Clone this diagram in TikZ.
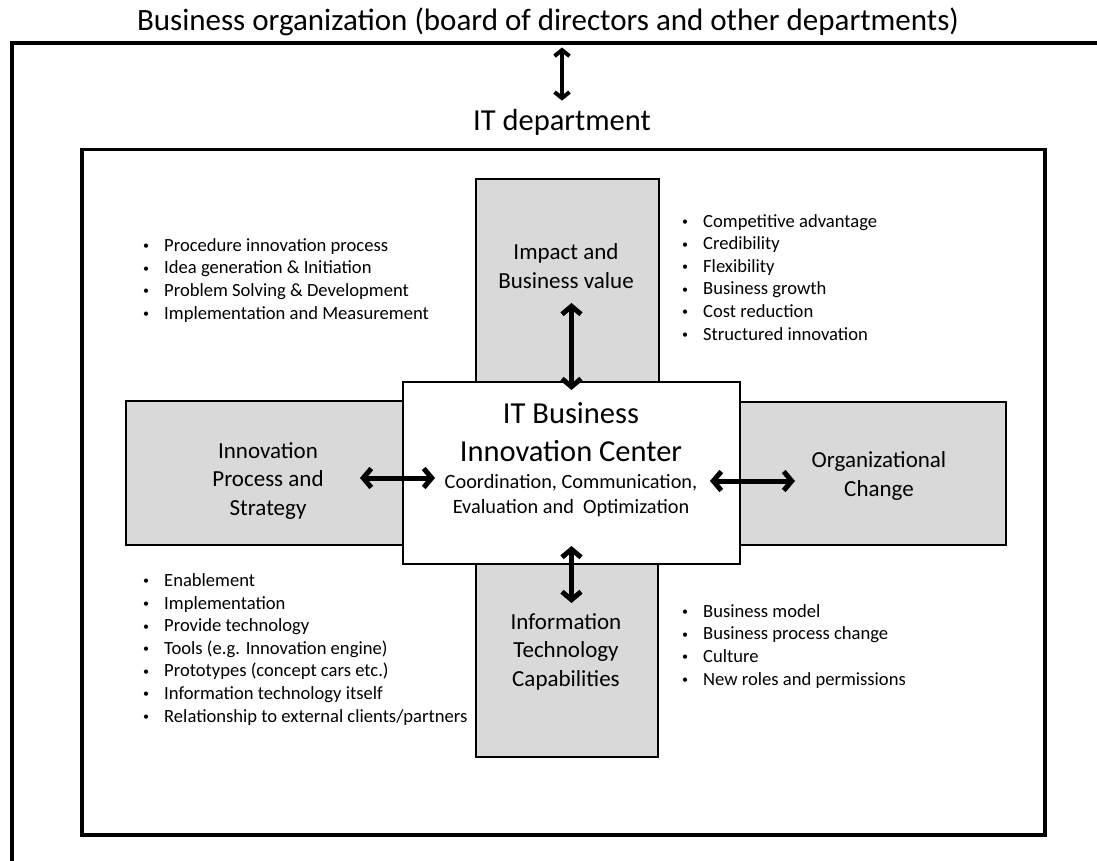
\documentclass[tikz,border=0pt]{standalone}
\usepackage{fontspec}
\setmainfont{Carlito}
\usetikzlibrary{arrows.meta}

\tikzset{
  graybox/.style={draw, line width=2pt, fill=black!15, inner sep=0pt},
  hubbox/.style={draw, line width=2pt, fill=white, inner sep=0pt},
  framebox/.style={draw, line width=3.5pt, inner sep=0pt},
  boxtext/.style={align=center, inner sep=0pt, anchor=base, font=\fontsize{23}{28.5}\selectfont},
  bullets/.style={align=left, inner sep=0pt, anchor=base west, font=\fontsize{18.6}{22.6}\selectfont},
  biarrow/.style={line width=5pt, line cap=round, line join=round,
    {Straight Barb[length=8pt,width=19pt]}-{Straight Barb[length=8pt,width=19pt]}},
  orgarrow/.style={line width=4pt, line cap=round, line join=round,
    {Straight Barb[length=6pt,width=15pt]}-{Straight Barb[length=6pt,width=15pt]}}
}
\newcommand{\bpt}{\makebox[21pt][l]{\raisebox{1.5pt}{\fontsize{12}{12}\selectfont\textbullet}}}

\begin{document}
\begin{tikzpicture}[x=1pt,y=-1pt]
  \useasboundingbox (0,0) rectangle (1097,861);

  % business organization and IT department
  \draw[line width=3.5pt] (1110,43) -- (12,43) -- (12,875);
  \node[inner sep=0pt, anchor=base, font=\fontsize{31}{36}\selectfont] (bizorg) at (548,31)
    {Business organization (board of directors and other departments)};
  \node[inner sep=0pt, anchor=base, font=\fontsize{30.5}{36}\selectfont] (itdept) at (562,131) {IT department};
  \draw[orgarrow] ([yshift=-11pt]bizorg.south -| itdept.north) -- ([yshift=9pt]itdept.north);
  \node[framebox, anchor=north west, minimum width=963pt, minimum height=685pt] (itbox) at (80,148) {};

  % the four fields
  \node[graybox, anchor=north west, minimum width=183pt, minimum height=210pt] (impact) at (475,178) {};
  \node[graybox, anchor=north west, minimum width=285pt, minimum height=144pt] (strategy) at (125,400) {};
  \node[graybox, anchor=north west, minimum width=274pt, minimum height=143pt] (orgchange) at (731,401) {};
  \node[graybox, anchor=north west, minimum width=182pt, minimum height=200pt] (itcap) at (475,556) {};

  % innovation center in the middle
  \node[hubbox, anchor=north west, minimum width=337pt, minimum height=182pt] (hub) at (402,381) {};
  \node[align=center, inner sep=0pt, anchor=base, font=\fontsize{30.5}{38}\selectfont] (hubtitle) at (571,461)
    {IT Business\\Innovation Center};
  \node[align=center, inner sep=0pt, anchor=base, font=\fontsize{20.3}{25}\selectfont] (hubtasks) at (571,513)
    {Coordination, Communication,\\Evaluation and\ \ Optimization};

  \node[boxtext] (impactlbl) at (566,288) {Impact and\\Business value};
  \node[boxtext] (strategylbl) at (268,515) {Innovation\\Process and\\Strategy};
  \node[boxtext] (orglbl) at (879,496) {Organizational\\Change};
  \node[boxtext] (itcaplbl) at (566,686) {Information\\Technology\\Capabilities};

  \draw[biarrow] ([yshift=-9pt]hub.north) -- ([yshift=78pt]hub.north);
  \draw[biarrow] ([yshift=19pt]hub.south) -- ([yshift=-38pt]hub.south);
  \draw[biarrow] ([xshift=-42pt,yshift=-5pt]hub.west) -- ([xshift=33pt,yshift=-5pt]hub.west);
  \draw[biarrow] ([xshift=-31pt,yshift=-8pt]hub.east) -- ([xshift=54pt,yshift=-8pt]hub.east);

  % bullet lists
  \node[bullets] (procitems) at (143,319) {\bpt Procedure innovation process\\
    \bpt Idea generation \& Initiation\\
    \bpt Problem Solving \& Development\\
    \bpt Implementation and Measurement};
  \node[bullets] (valueitems) at (682,340) {\bpt Competitive advantage\\
    \bpt Credibility\\
    \bpt Flexibility\\
    \bpt Business growth\\
    \bpt Cost reduction\\
    \bpt Structured innovation};
  \node[bullets] (techitems) at (143,722) {\bpt Enablement\\
    \bpt Implementation\\
    \bpt Provide technology\\
    \bpt Tools (e.g. Innovation engine)\\
    \bpt Prototypes (concept cars etc.)\\
    \bpt Information technology itself\\
    \bpt Relationship to external clients/partners};
  \node[bullets] (changeitems) at (682,685) {\bpt Business model\\
    \bpt Business process change\\
    \bpt Culture\\
    \bpt New roles and permissions};
\end{tikzpicture}
\end{document}
